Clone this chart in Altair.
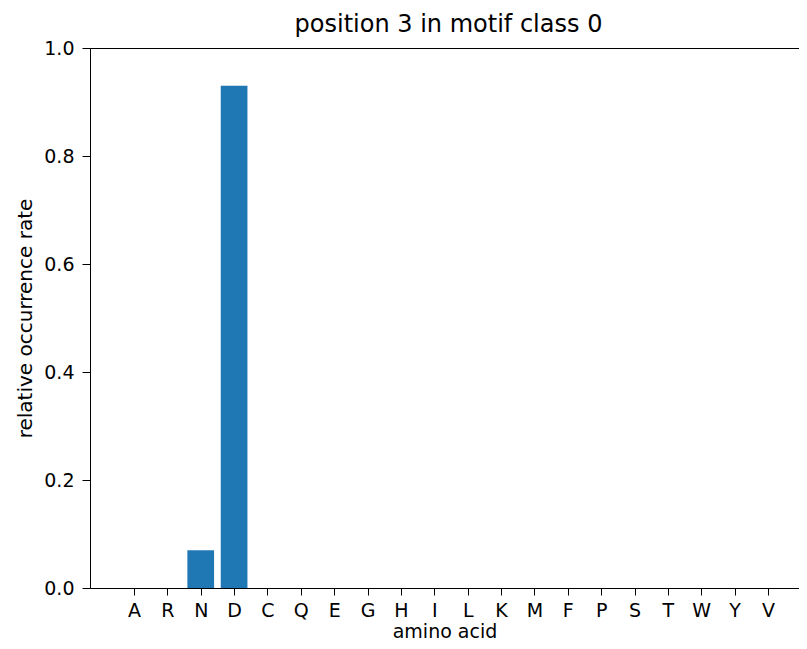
import altair as alt
import pandas as pd

amino_acids = ["A", "R", "N", "D", "C", "Q", "E", "G", "H", "I",
               "L", "K", "M", "F", "P", "S", "T", "W", "Y", "V"]
rates = [0, 0, 0.07, 0.93, 0, 0, 0, 0, 0, 0,
         0, 0, 0, 0, 0, 0, 0, 0, 0, 0]
y_ticks = [0, 0.2, 0.4, 0.6, 0.8, 1.0]

df = pd.DataFrame({
    "aa": amino_acids,
    "rate": rates,
    "idx": list(range(len(amino_acids))),
})
df["x0"] = df["idx"] - 0.4
df["x1"] = df["idx"] + 0.4

label_map = "[" + ",".join(f"'{a}'" for a in amino_acids) + "]"

font = "DejaVu Sans"

chart = alt.Chart(df).mark_rect(color="#1f77b4").encode(
    x=alt.X("x0:Q",
            scale=alt.Scale(domain=[-1.3186, 19.929], nice=False, zero=False),
            axis=alt.Axis(values=list(range(len(amino_acids))),
                          labelExpr=f"{label_map}[datum.value]",
                          title="amino acid", grid=False,
                          domainColor="black", tickColor="black",
                          tickSize=7, labelPadding=6,
                          labelFont=font, labelFontSize=19, labelColor="black",
                          titleFont=font, titleFontSize=19, titleFontWeight="normal",
                          titleColor="black", titlePadding=2)),
    x2="x1:Q",
    y=alt.Y("rate:Q",
            scale=alt.Scale(domain=[0, 1], nice=False),
            axis=alt.Axis(values=y_ticks, format=".1f",
                          title="relative occurrence rate", grid=False,
                          domainColor="black", tickColor="black",
                          tickSize=8, labelPadding=8,
                          labelFont=font, labelFontSize=19, labelColor="black",
                          titleFont=font, titleFontSize=20, titleFontWeight="normal",
                          titleColor="black", titlePadding=8)),
    y2=alt.datum(0),
).properties(
    width=709,
    height=540,
    title=alt.Title("position 3 in motif class 0", font=font, fontSize=24,
                    fontWeight="normal", color="black", offset=2, dx=4),
    autosize=alt.AutoSizeParams(type="none"),
    padding={"left": 82, "top": 40, "right": 0, "bottom": 53},
).configure_view(
    stroke="black", strokeWidth=1
)

chart.save("out.html", embed_options={"renderer": "svg", "actions": False})
